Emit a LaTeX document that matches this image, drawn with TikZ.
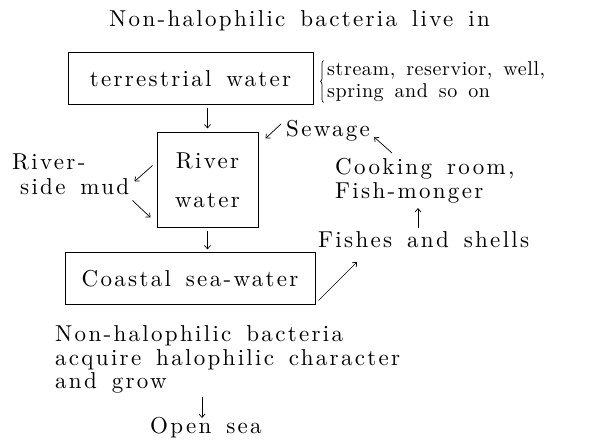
\documentclass[tikz,border=0pt]{standalone}
\usepackage{fontspec}
\setmainfont{lmroman10-regular.otf}[LetterSpace=10, WordSpace=1.5]
\usetikzlibrary{arrows.meta,decorations.pathreplacing,calc}
\begin{document}
\begin{tikzpicture}[x=1pt,y=-1pt,
  font=\fontsize{23}{24}\selectfont,
  arr/.style={-{Straight Barb[length=3.5pt,width=6pt]}, line width=0.7pt},
  boxst/.style={draw, line width=1pt, inner sep=0pt, align=center},
  txt/.style={anchor=base west, inner sep=0pt},
  small/.style={txt, font=\fontsize{20}{22}\selectfont\addfontfeatures{LetterSpace=3}}]
\useasboundingbox (0,0) rectangle (595,443);
% title
\node[txt] (title) at (109,27) {Non-halophilic bacteria live in};
% boxes
\node[boxst, minimum width=245pt, minimum height=52pt] (terr) at (190.5,79) {terrestrial water};
\node[boxst, minimum width=101pt, minimum height=95pt] (river) at (207.5,180.5) {River\\[15pt]water};
\node[boxst, minimum width=250pt, minimum height=52pt] (coast) at (190,279) {Coastal sea-water};
% brace and examples
\node[small] (stream) at (327,76) {stream, reservior, well,};
\node[small] (spring) at (327,98) {spring and so on};
\draw[decorate, decoration={brace,amplitude=3pt}, line width=0.7pt]
  ($(terr.south east)+(10,-3)$) -- ($(terr.north east)+(10,8)$);
% vertical flow
\draw[arr, shorten <=3pt, shorten >=4pt] (terr.south -| river.north) -- (river.north);
\draw[arr, shorten <=3pt, shorten >=3pt] (river.south) -- (river.south |- coast.north);
% riverside mud
\node[txt] (mud1) at (12,170) {River-};
\node[txt] (mud2) at (20,195) {side mud};
\draw[arr] ($(river.west)+(-4,-15)$) -- ($(river.west)+(-22,1)$);
\draw[arr] ($(river.west)+(-24,20)$) -- ($(river.west)+(-6,37)$);
% sewage cycle
\node[txt] (sew) at (286,137) {Sewage};
\node[txt] (cook) at (335,175) {Cooking room,};
\node[txt] (fish) at (335,199) {Fish-monger};
\node[txt] (shells) at (318,248) {Fishes and shells};
\draw[arr] ($(sew.base west)+(-5,-13)$) -- ($(river.north east)+(7,6)$);
\draw[arr] ($(cook.base west)+(57,-22)$) -- ($(sew.base east)+(4,0)$);
\draw[arr] ($(shells.base west)+(100,-20)$) -- ($(fish.base west)+(83,9)$);
\draw[arr] ($(coast.south east)+(3,-5)$) -- ($(shells.base west)+(39,14)$);
% bottom
\node[txt] (b1) at (55,342) {Non-halophilic bacteria};
\node[txt] (b2) at (55,366) {acquire halophilic character};
\node[txt] (b3) at (55,389) {and grow};
\node[txt] (open) at (150,434) {Open sea};
\draw[arr] ($(b3.base west)+(147,8)$) -- ($(open.base west)+(52,-16)$);
\end{tikzpicture}
\end{document}
